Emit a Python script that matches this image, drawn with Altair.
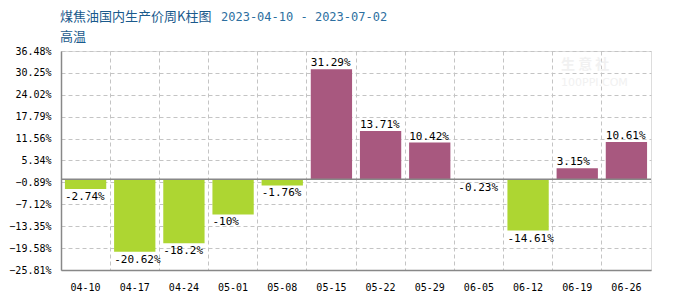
import altair as alt
import pandas as pd

weeks = ["04-10", "04-17", "04-24", "05-01", "05-08", "05-15",
         "05-22", "05-29", "06-05", "06-12", "06-19", "06-26"]
changes = [-2.74, -20.62, -18.2, -10, -1.76, 31.29,
           13.71, 10.42, -0.23, -14.61, 3.15, 10.61]
labels = ["-2.74%", "-20.62%", "-18.2%", "-10%", "-1.76%", "31.29%",
          "13.71%", "10.42%", "-0.23%", "-14.61%", "3.15%", "10.61%"]
y_ticks = [-25.81, -19.58, -13.35, -7.12, -0.89, 5.34, 11.56, 17.79, 24.02, 30.25, 36.48]
y_domain = [-25.81, 36.48]

df = pd.DataFrame({"week": weeks, "chg": changes, "label": labels})
df["dir"] = ["up" if v >= 0 else "down" for v in changes]

GREEN = "#add632"
PURPLE = "#a8587f"
MONO = "DejaVu Sans Mono"
CJK = "Noto Sans CJK SC"

x_scale = alt.Scale(paddingInner=0, paddingOuter=0)
x_axis = alt.Axis(title=None, labelAngle=0, bandPosition=0,
                  grid=True, gridDash=[4, 3], gridColor="#c4c4c4",
                  ticks=False, labelPadding=12, labelFont=MONO,
                  labelFontSize=10, labelColor="#000",
                  domainColor="#888", domainWidth=1.5,
                  labelOverlap=False)
y_scale = alt.Scale(domain=y_domain, nice=False, zero=False)
y_axis = alt.Axis(title=None, values=y_ticks,
                  labelExpr="format(datum.value, '.2f') + '%'",
                  grid=True, gridDash=[4, 3], gridColor="#c4c4c4",
                  ticks=False, labelPadding=10, labelFont=MONO,
                  labelFontSize=10, labelColor="#000",
                  domainColor="#888", domainWidth=1.5, labelOverlap=False)

bars = alt.Chart(df).mark_bar(width={"band": 0.84}).encode(
    x=alt.X("week:N", sort=weeks, scale=x_scale, axis=x_axis),
    y=alt.Y("chg:Q", scale=y_scale, axis=y_axis),
    y2=alt.datum(0),
    color=alt.Color("dir:N", scale=alt.Scale(domain=["up", "down"], range=[PURPLE, GREEN]), legend=None),
)

zero_line = alt.Chart(pd.DataFrame({"z": [0]})).mark_rule(color="#888", strokeWidth=1.5).encode(
    y=alt.Y("z:Q", scale=y_scale, axis=y_axis)
)

pos_text = alt.Chart(df[df.chg >= 0]).mark_text(
    align="left", baseline="bottom", dx=4, dy=-1, font=MONO, fontSize=11, color="#000"
).encode(
    x=alt.X("week:N", sort=weeks, bandPosition=0, scale=x_scale, axis=x_axis),
    y=alt.Y("chg:Q", scale=y_scale, axis=y_axis),
    text="label:N",
)
neg_text = alt.Chart(df[df.chg < 0]).mark_text(
    align="left", baseline="top", dx=4, dy=2, font=MONO, fontSize=11, color="#000"
).encode(
    x=alt.X("week:N", sort=weeks, bandPosition=0, scale=x_scale, axis=x_axis),
    y=alt.Y("chg:Q", scale=y_scale, axis=y_axis),
    text="label:N",
)

title_text = alt.Chart(pd.DataFrame({"t": ["煤焦油国内生产价周K柱图"]})).mark_text(
    align="left", baseline="middle", font=CJK, fontSize=13, color="#1a5a8c"
).encode(x=alt.value(-1), y=alt.value(-34), text="t:N")
sub_text = alt.Chart(pd.DataFrame({"t": ["高温"]})).mark_text(
    align="left", baseline="middle", font=CJK, fontSize=13, color="#1a5a8c"
).encode(x=alt.value(-1), y=alt.value(-14), text="t:N")
date_text = alt.Chart(pd.DataFrame({"t": ["2023-04-10 - 2023-07-02"]})).mark_text(
    align="left", baseline="middle", font=MONO, fontSize=12, color="#2d6fa0"
).encode(x=alt.value(160), y=alt.value(-34), text="t:N")

wm1 = alt.Chart(pd.DataFrame({"t": ["生 意 社"]})).mark_text(
    align="left", baseline="middle", font=CJK, fontSize=14, fontWeight="bold", color="#f1f1f1"
).encode(x=alt.value(500), y=alt.value(14), text="t:N")
wm2 = alt.Chart(pd.DataFrame({"t": ["100PPI.COM"]})).mark_text(
    align="left", baseline="middle", font="DejaVu Sans", fontSize=11, color="#f1f1f1"
).encode(x=alt.value(500), y=alt.value(32), text="t:N")

chart = alt.layer(wm1, wm2, bars, zero_line, pos_text, neg_text,
                  title_text, sub_text, date_text).properties(
    width=590, height=219,
    padding={"left": 0, "top": 3, "right": 5, "bottom": 0},
).configure_view(stroke="#c4c4c4", strokeDash=[4, 3]).configure_axis(
    labelOverlap=False
).configure(background="white")

chart.save("out.html", embed_options={"renderer": "svg", "actions": False})
